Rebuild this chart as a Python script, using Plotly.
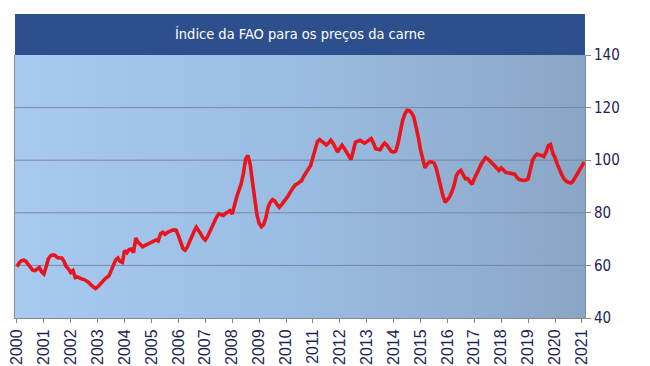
import plotly.graph_objects as go

# ---- data: FAO meat price index, monthly values ----
v2000 = [59.5, 61.0, 61.8, 62.0, 61.5, 60.5, 59.0, 58.2, 58.0, 58.8, 59.2, 57.5]
v2001 = [56.7, 59.5, 62.5, 63.7, 64.0, 63.8, 63.0, 62.8, 62.8, 61.5, 59.5, 58.6]
v2002 = [57.3, 58.0, 55.4, 55.6, 55.0, 54.8, 54.6, 54.2, 53.5, 52.6, 52.0, 51.2]
v2003 = [51.8, 52.9, 53.8, 54.6, 55.4, 56.0, 58.0, 60.5, 62.0, 62.8, 61.5, 61.1]
v2004 = [65.6, 64.8, 66.0, 66.2, 64.9, 70.4, 68.8, 68.0, 67.1, 67.5, 68.0, 68.3]
v2005 = [68.8, 69.5, 69.7, 69.3, 72.0, 72.6, 71.8, 72.5, 73.0, 73.3, 73.5, 73.4]
v2006 = [71.3, 69.0, 66.5, 65.8, 67.0, 69.0, 71.3, 73.0, 74.5, 73.5, 72.0, 70.5]
v2007 = [69.7, 71.0, 73.0, 75.0, 77.0, 78.3, 79.6, 79.2, 79.0, 79.8, 80.2, 80.8]
v2008 = [79.5, 83.0, 86.0, 88.5, 91.0, 95.0, 100.5, 101.8, 98.5, 92.0, 86.0, 79.5]
v2009 = [76.0, 74.7, 75.5, 78.0, 82.1, 84.0, 85.0, 84.5, 83.2, 82.1, 83.0, 84.0]
v2010 = [85.2, 86.5, 88.0, 89.5, 90.5, 91.0, 91.8, 92.3, 94.0, 95.5, 96.5, 98.0]
v2011 = [101.0, 104.5, 107.0, 107.8, 107.0, 106.5, 105.8, 106.5, 107.6, 106.5, 105.0, 103.1]
v2012 = [104.5, 105.7, 104.5, 103.1, 101.5, 100.2, 103.5, 106.9, 107.2, 107.6, 107.0, 106.5]
v2013 = [107.0, 107.5, 108.2, 106.5, 104.4, 104.2, 104.0, 105.5, 106.5, 105.7, 104.5, 103.3]
v2014 = [103.1, 103.5, 106.5, 111.4, 115.0, 117.5, 119.0, 118.8, 118.0, 116.5, 113.0, 108.8]
v2015 = [104.0, 100.0, 97.1, 98.5, 99.3, 99.3, 99.0, 97.0, 93.5, 89.5, 86.5, 84.0]
v2016 = [85.0, 86.1, 88.0, 90.5, 94.2, 95.5, 96.1, 94.5, 93.0, 93.0, 91.8, 90.8]
v2017 = [93.0, 94.5, 96.5, 98.4, 100.0, 101.0, 100.5, 99.4, 98.8, 98.0, 97.0, 96.1]
v2018 = [97.1, 96.0, 95.4, 95.2, 95.0, 95.0, 94.7, 93.5, 92.6, 92.5, 92.3, 92.5]
v2019 = [92.9, 96.5, 100.0, 101.5, 102.3, 102.0, 101.9, 101.4, 103.0, 105.5, 106.0, 102.7]
v2020 = [101.0, 98.5, 96.0, 94.5, 93.0, 92.0, 91.6, 91.3, 92.0, 93.5, 95.0, 96.5]
v2021 = [97.8, 99.3]

years = list(range(2000, 2022))
year_labels = [str(y) for y in years]
y_ticks = [40, 60, 80, 100, 120, 140]
grid_vals = [60, 80, 100, 120]
title_text = "Índice da FAO para os preços da carne"

series = [v2000, v2001, v2002, v2003, v2004, v2005, v2006, v2007, v2008, v2009,
          v2010, v2011, v2012, v2013, v2014, v2015, v2016, v2017, v2018, v2019,
          v2020, v2021]

xs, ys = [], []
for yr, vals in zip(years, series):
    for m, v in enumerate(vals):
        xs.append(yr + m / 12.0)
        ys.append(v)

x_range = [1999.926, 2021.115]
y_range = [40, 140]

NAVY = "#1c2557"
NARROW = "DejaVu Sans Condensed, Liberation Sans Narrow, Arial Narrow, Liberation Sans, Arial, sans-serif"

fig = go.Figure()

# gradient background of the plot area
fig.add_trace(go.Scatter(
    x=[x_range[0], x_range[1], x_range[1], x_range[0], x_range[0]],
    y=[y_range[0], y_range[0], y_range[1], y_range[1], y_range[0]],
    mode="lines", line=dict(width=0), fill="toself",
    fillgradient=dict(type="horizontal",
                      colorscale=[[0, "#a9caf0"], [0.5, "#9bbce2"], [1, "#8aa6c6"]]),
    hoverinfo="skip", showlegend=False))

# horizontal gridlines
gx, gy = [], []
for g in grid_vals:
    gx += [x_range[0], x_range[1], None]
    gy += [g, g, None]
fig.add_trace(go.Scatter(x=gx, y=gy, mode="lines",
                         line=dict(color="#7189a8", width=1),
                         hoverinfo="skip", showlegend=False))

# data line
fig.add_trace(go.Scatter(x=xs, y=ys, mode="lines",
                         line=dict(color="#e8151d", width=3.6),
                         showlegend=False))

# page body adds an 8px offset, so the figure is 8px smaller on each axis
fig.update_layout(
    width=642, height=358,
    margin=dict(l=7, r=65, t=47, b=48),
    paper_bgcolor="white", plot_bgcolor="#9bbce2",
    xaxis=dict(range=x_range, tickvals=years, ticktext=year_labels,
               tickangle=-90, showgrid=False, zeroline=False, automargin=False,
               showline=True, linecolor="#8a8a8a", linewidth=1,
               ticks="outside", ticklen=4, tickcolor="#8a8a8a",
               tickfont=dict(family="Liberation Sans, Arial, sans-serif", size=16, color=NAVY)),
    yaxis=dict(range=y_range, side="right", tickvals=y_ticks,
               showgrid=False, zeroline=False, automargin=False,
               showline=True, linecolor="#8a8a8a", linewidth=1, mirror=True,
               ticks="outside", ticklen=5, tickcolor="#8a8a8a",
               tickfont=dict(family=NARROW, size=15, color=NAVY)),
    shapes=[dict(type="rect", xref="paper", yref="paper",
                 x0=0, x1=1, y0=1.0, y1=1 + 41 / 263,
                 fillcolor="#2e4f8e", line=dict(width=0), layer="above")],
    annotations=[dict(text=title_text, xref="paper", yref="paper",
                      x=0.5, y=1 + 20.5 / 263, xanchor="center", yanchor="middle",
                      showarrow=False,
                      font=dict(family=NARROW, size=14.5, color="white"))],
)

fig.write_html("out.html")
